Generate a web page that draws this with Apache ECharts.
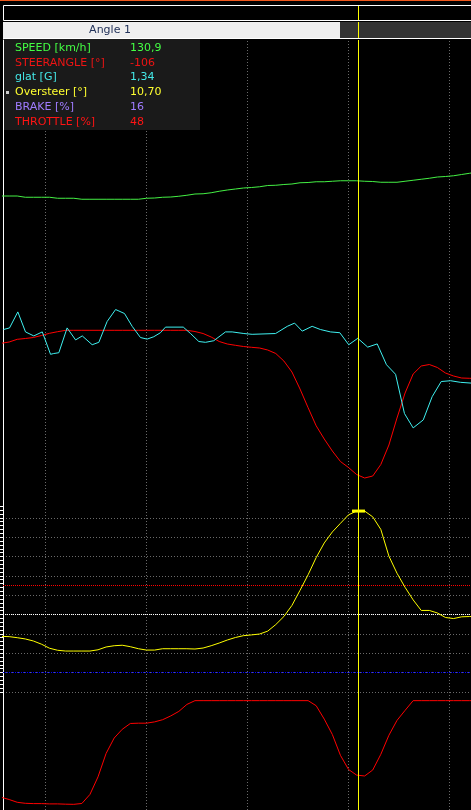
<!DOCTYPE html>
<html><head><meta charset="utf-8">
<script src="https://cdn.jsdelivr.net/npm/echarts/dist/echarts.min.js"></script>
<style>html,body{margin:0;padding:0;background:#000;overflow:hidden}#c{width:471px;height:810px}</style>
</head><body><div id="c"></div>
<script>
// ---- data (lap distance in m) ----
const distance = [78,82,86,90,94,98,102,106,110,114,118,122,126,130,134,138,142,146,150,154,158,162,166,170,174,178,182,186,190,194,198,202,206,210,214,218,222,226,230,234,238,242,246,250,254,258,262,266,270,274,278,282,286,290,294,298,302,306,310,314];
const speed = [124.8,124.8,124.8,124.3,124.3,124.3,124.3,123.9,123.9,123.9,123.5,123.5,123.5,123.5,123.5,123.5,123.5,123.5,123.9,124.0,124.3,124.4,124.7,125.1,125.6,125.7,126.1,126.7,127.2,127.6,128.0,128.2,128.5,129.0,129.1,129.4,129.6,130.1,130.2,130.5,130.5,130.7,130.9,130.9,130.9,130.7,130.6,130.3,130.3,130.3,130.7,131.1,131.5,131.9,132.4,132.6,132.9,133.4,133.9,134.4];
const steerAngle = [26.4,27.7,30.4,31.2,32.2,34.2,36.4,38.0,39.4,39.4,39.4,39.4,39.4,39.4,39.4,39.4,39.4,39.4,39.4,39.4,39.4,39.4,39.4,39.4,38.2,36.2,32.7,28.2,25.7,24.4,23.2,22.4,21.7,19.7,16.2,8.7,-2.3,-19.3,-38.0,-56.1,-69.3,-81.3,-91.8,-97.8,-104.8,-108.3,-106.3,-94.8,-75.3,-48.3,-23.3,-4.3,3.7,5.2,2.2,-3.3,-6.3,-8.3,-8.6,-8.6];
const oversteer = [-2.26,-2.29,-2.40,-2.53,-2.74,-3.07,-3.49,-3.70,-3.78,-3.78,-3.78,-3.78,-3.65,-3.36,-3.23,-3.18,-3.33,-3.54,-3.68,-3.68,-3.54,-3.54,-3.54,-3.54,-3.57,-3.47,-3.23,-2.95,-2.64,-2.38,-2.19,-2.11,-2.02,-1.72,-1.04,-0.21,0.94,2.50,4.11,5.89,7.40,8.54,9.43,10.31,10.70,10.70,10.10,8.80,6.04,4.27,2.81,1.51,0.42,0.42,0.16,-0.31,-0.42,-0.24,-0.21,-0.21];
const throttle = [33.6,32.0,30.1,29.4,29.2,29.2,29.0,29.0,28.8,28.7,29.3,35.5,47.6,63.7,74.3,80.3,84.3,84.5,84.5,85.4,86.9,89.5,92.6,97.4,100,100,100,100,100,100,100,100,100,100,100,100,100,100,100,96.5,87.3,76.7,62.4,52.7,48.8,48.2,52.3,63.1,76.2,86.4,93.3,100,100,100,100,100,100,100,100,100];
const glatDistance = [79.2,82.2,86.3,90.1,94.2,98.4,102.5,104.1,106.6,110.7,114.9,118.2,123.1,126.4,130.5,134.7,139.1,142.9,147.0,150.3,153.6,156.9,159.4,168.2,171.8,175.9,179.2,183.3,189.1,192.4,198.2,202.3,213.9,219.7,223.3,227.1,232.0,236.1,241.1,245.7,250.1,254.6,259.5,264.2,268.8,273.3,277.7,282.0,287.0,291.4,295.9,300.5,305.4,310.9];
const glat = [1.45,1.47,1.67,1.42,1.37,1.42,1.14,1.15,1.16,1.47,1.32,1.37,1.26,1.29,1.55,1.70,1.65,1.49,1.35,1.33,1.36,1.41,1.48,1.48,1.40,1.30,1.29,1.31,1.42,1.42,1.40,1.39,1.40,1.49,1.53,1.43,1.49,1.45,1.42,1.41,1.26,1.34,1.23,1.27,1.01,0.89,0.40,0.22,0.32,0.61,0.80,0.81,0.79,0.78];
const legendNames = ['SPEED [km/h]','STEERANGLE [°]','glat [G]','Oversteer [°]','BRAKE [%]','THROTTLE [%]'];
const legendValues = ['130,9','-106','1,34','10,70','16','48'];
const distanceMarks = [100,150,200,250,300];
const cursorDistance = 254.95;
const cursorOversteer = 10.70;
const oversteerRefs = [3,0,-6];
const headerTitle = 'Angle 1';

// ---- styles ----
const legendColors = ['#44ff44','#ee1414','#44e8e8','#ffff30','#a07cff','#ff1414'];
const refColors = ['#ff0000','#ffffff','#0000ff'];
const X_MIN = 78.96, X_MAX = 310.64;
const OS_PX = 29 / 3;              // pixels per degree in the oversteer panel
const OS_TOP = 614.5 - 11.2 * OS_PX;

const pairs = (xs, ys) => xs.map((x, i) => [x, ys[i]]);
const lineBase = {type:'line', showSymbol:false, symbol:'none', smooth:false, animation:false, silent:true, z:2};

const graphics = [
  {type:'rect', shape:{x:0,y:0,width:471,height:1}, style:{fill:'#f0581c'}, z:100},
  {type:'rect', shape:{x:3.5,y:5.5,width:480,height:15}, style:{fill:'#000',stroke:'#fff',lineWidth:1}, z:100},
  {type:'rect', shape:{x:3,y:22,width:337,height:16}, style:{fill:'#efefef'}, z:100},
  {type:'rect', shape:{x:340,y:22,width:131,height:16}, style:{fill:'#333333'}, z:100},
  {type:'line', shape:{x1:3,y1:38.5,x2:471,y2:38.5}, style:{stroke:'#fff',lineWidth:1}, z:100},
  {type:'line', shape:{x1:358.5,y1:6,x2:358.5,y2:20}, style:{stroke:'#ffff00',lineWidth:1}, z:101},
  {type:'line', shape:{x1:358.5,y1:22,x2:358.5,y2:38}, style:{stroke:'#ffff00',lineWidth:1}, z:101},
  {type:'text', x:110, y:30.5, style:{text:headerTitle, fill:'#22325a', font:'11px "DejaVu Sans"', align:'center', verticalAlign:'middle'}, z:101},
  {type:'rect', shape:{x:4,y:39,width:196,height:91}, style:{fill:'#1a1a1a'}, z:100},
  {type:'rect', shape:{x:6,y:91,width:3,height:3}, style:{fill:'#cccccc'}, z:101}
];
legendNames.forEach((n, i) => {
  const y = 47.8 + 14.9 * i;
  graphics.push({type:'text', x:15, y:y, style:{text:n, fill:legendColors[i], font:'11px "DejaVu Sans"', align:'left', verticalAlign:'middle'}, z:101});
  graphics.push({type:'text', x:130, y:y, style:{text:legendValues[i], fill:legendColors[i], font:'11px "DejaVu Sans"', align:'left', verticalAlign:'middle'}, z:101});
});

const hidden = (min, max) => ({type:'value', gridIndex:0, show:false, min:min, max:max, splitLine:{show:false}});

const refSeries = oversteerRefs.map((v, i) => Object.assign({}, lineBase, {
  name:'ref' + i, xAxisIndex:1, yAxisIndex:4, z:1,
  data:[[X_MIN, v], [X_MAX, v]],
  lineStyle:{color:refColors[i], width:1, type:[1,1]}
}));

const option = {
  backgroundColor:'#000',
  animation:false,
  grid:[
    {left:3, top:40, width:468, height:770, outerBoundsMode:'none', containLabel:false},
    {left:3, top:OS_TOP, width:468, height:19.2 * OS_PX, outerBoundsMode:'none', containLabel:false}
  ],
  xAxis:[
    {type:'value', gridIndex:0, show:false, min:X_MIN, max:X_MAX},
    {type:'value', gridIndex:1, show:false, min:X_MIN, max:X_MAX}
  ],
  yAxis:[
    {type:'value', gridIndex:0, min:-120.8, max:187.2, position:'left',
     axisLine:{show:true, lineStyle:{color:'#fff', width:1}}, axisTick:{show:false}, axisLabel:{show:false}, splitLine:{show:false}},
    hidden(-440.3, 329.7),
    hidden(-4.556, 5.069),
    hidden(24.8, 554.3),
    {type:'value', gridIndex:1, min:-8, max:11.2, interval:2, position:'left',
     axisLine:{show:false}, axisLabel:{show:false},
     axisTick:{show:true, length:3, inside:false, lineStyle:{color:'#fff', width:1}},
     minorTick:{show:true, splitNumber:5, length:3, lineStyle:{color:'#fff', width:1}},
     splitLine:{show:true, showMaxLine:false, showMinLine:true, lineStyle:{color:'#6a6a6a', width:1, type:[1,2]}},
     minorSplitLine:{show:false}}
  ],
  graphic: graphics,
  series:[
    Object.assign({}, lineBase, {name:'SPEED', xAxisIndex:0, yAxisIndex:0, data:pairs(distance, speed),
      lineStyle:{color:'#44f044', width:1},
      markLine:{silent:true, symbol:'none', z:1, animation:false, label:{show:false},
        lineStyle:{color:'#6a6a6a', width:1, type:[1,2]},
        data:distanceMarks.map(d => ({xAxis:d}))}}),
    Object.assign({}, lineBase, {name:'STEERANGLE', xAxisIndex:0, yAxisIndex:1, data:pairs(distance, steerAngle),
      lineStyle:{color:'#ff0000', width:1}}),
    Object.assign({}, lineBase, {name:'glat', xAxisIndex:0, yAxisIndex:2, data:pairs(glatDistance, glat),
      lineStyle:{color:'#3ff0f0', width:1}}),
    Object.assign({}, lineBase, {name:'THROTTLE', xAxisIndex:0, yAxisIndex:3, data:pairs(distance, throttle),
      lineStyle:{color:'#ff0000', width:1},
      markLine:{silent:true, symbol:'none', z:10, animation:false, label:{show:false},
        lineStyle:{color:'#ffff00', width:1, type:'solid'},
        data:[{xAxis:cursorDistance}]}}),
    ...refSeries,
    Object.assign({}, lineBase, {name:'Oversteer', xAxisIndex:1, yAxisIndex:4, data:pairs(distance, oversteer),
      lineStyle:{color:'#ffff00', width:1},
      markPoint:{silent:true, animation:false, symbol:'rect', symbolSize:[13,3], z:11,
        itemStyle:{color:'#ffff00'}, label:{show:false},
        data:[{coord:[cursorDistance, cursorOversteer]}]}})
  ]
};
const chart = echarts.init(document.getElementById('c'), null, {renderer:'canvas'});
chart.setOption(option);
</script>
</body></html>
